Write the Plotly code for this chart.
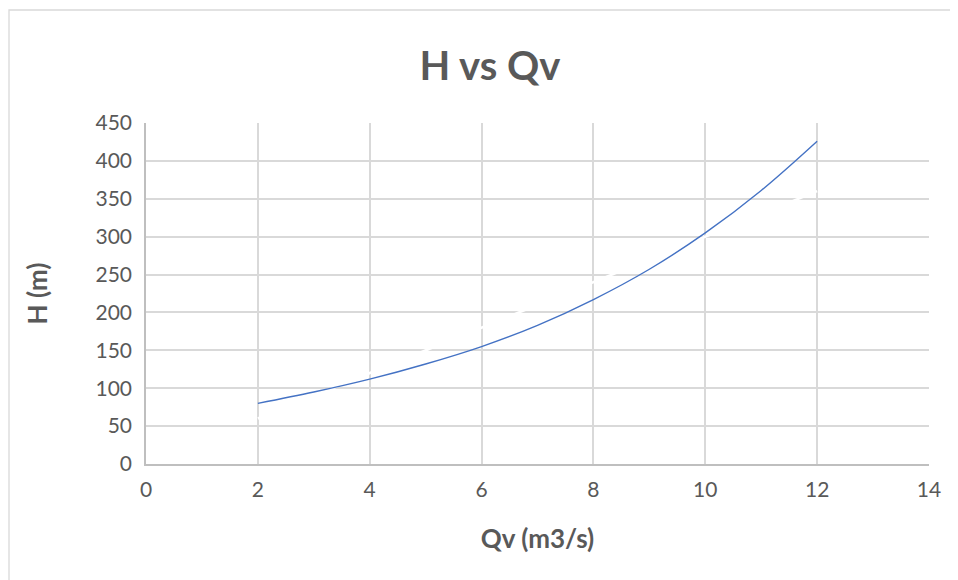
import plotly.graph_objects as go

# Data
qv = [2, 3, 4, 5, 6, 7, 8, 9, 10, 11, 12]
h = [80, 95, 112, 132, 155, 183, 217, 257, 305, 361, 426]

# faint white companion series (visible only over gridlines)
qv_white = [2, 4, 6, 8, 10, 12]
h_white = [60, 120, 180, 240, 300, 360]

x_ticks = [0, 2, 4, 6, 8, 10, 12, 14]
y_ticks = [0, 50, 100, 150, 200, 250, 300, 350, 400, 450]

FONT = "Lato, 'Open Sans', sans-serif"
GRAY = "#595959"
GRID = "#d9d9d9"

# page renders with an 8px offset, compensate
W, H = 950, 572
L, T = 138, 115
PW, PH = 783, 341

fig = go.Figure()
fig.add_trace(go.Scatter(x=qv_white, y=h_white, mode="lines",
                         line=dict(color="white", width=2.5), showlegend=False,
                         hoverinfo="skip"))
fig.add_trace(go.Scatter(x=qv, y=h, mode="lines", line=dict(color="#4472c4", width=1.4, shape="spline"),
                         showlegend=False))

fig.update_layout(
    width=W, height=H,
    margin=dict(l=L, r=W - L - PW, t=T, b=H - T - PH, pad=0),
    paper_bgcolor="white", plot_bgcolor="white",
    title=dict(text="<b>H vs Qv</b>", x=(490 - 8) / W, xanchor="center", y=1 - (66 - 8) / H, yanchor="middle",
               font=dict(family=FONT, size=40, color=GRAY)),
    xaxis=dict(range=[0, 14], tickvals=x_ticks, ticktext=[str(v) for v in x_ticks],
               showgrid=True, gridcolor=GRID, gridwidth=1.8, zeroline=False,
               showline=True, linecolor="#bfbfbf", linewidth=1.6, ticks="",
               tickfont=dict(family=FONT, size=21, color=GRAY), ticklabelstandoff=6,
               title=dict(text="<b>Qv (m3/s)</b>", font=dict(family=FONT, size=26, color=GRAY), standoff=30)),
    yaxis=dict(range=[0, 450], tickvals=y_ticks, ticktext=[str(v) for v in y_ticks],
               showgrid=True, gridcolor=GRID, gridwidth=1.8, zeroline=False,
               showline=True, linecolor="#bfbfbf", linewidth=1.6, ticks="",
               tickfont=dict(family=FONT, size=21, color=GRAY), ticklabelstandoff=8,
               title=dict(text="<b>H (m)</b>", font=dict(family=FONT, size=26, color=GRAY), standoff=40)),
    shapes=[dict(type="rect", xref="paper", yref="paper",
                 x0=(1 - L) / PW, x1=1.2, y0=-0.6, y1=1 + (T - 2) / PH,
                 line=dict(color=GRID, width=1.3), layer="below")],
)

fig.write_html("out.html")
